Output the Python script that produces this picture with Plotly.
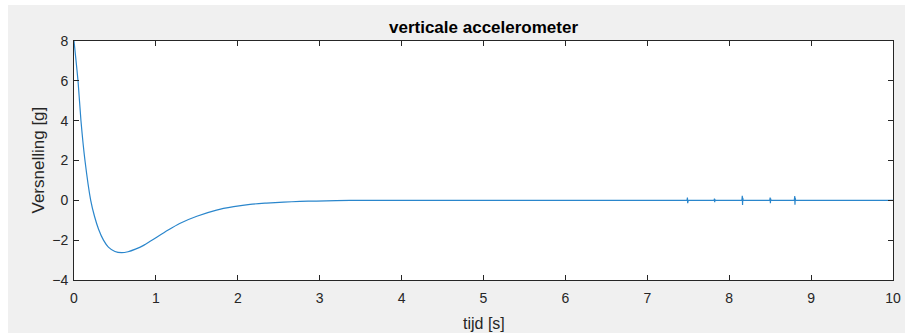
import plotly.graph_objects as go

# transient part of the signal (s, g)
curve_t = [0.0, 0.02, 0.049, 0.085, 0.134, 0.204, 0.25, 0.30, 0.36, 0.42, 0.50, 0.58,
           0.66, 0.75, 0.85, 0.93, 1.01, 1.15, 1.29, 1.5, 1.74, 1.95, 2.15, 2.35,
           2.56, 2.76, 2.96, 3.2, 3.37]
curve_y = [8.0, 7.2, 6.0, 4.0, 2.0, 0.0, -0.8, -1.45, -2.0, -2.35, -2.57, -2.63,
           -2.58, -2.45, -2.26, -2.06, -1.85, -1.49, -1.16, -0.8, -0.49, -0.32, -0.2, -0.14,
           -0.09, -0.055, -0.035, -0.015, 0.0]

# steady part with the small spikes
flat_t = [3.37, 4.0, 5.0, 6.0, 7.0, 7.485, 7.49, 7.493, 7.496, 7.5,
          7.815, 7.82, 7.823, 7.826, 7.83,
          8.155, 8.16, 8.163, 8.166, 8.17,
          8.495, 8.5, 8.503, 8.506, 8.51,
          8.795, 8.8, 8.803, 8.806, 8.81, 9.5, 10.0]
flat_y = [0.0, 0.0, 0.0, 0.0, 0.0, 0.0, 0.14, -0.14, 0.08, 0.0,
          0.0, 0.09, -0.09, 0.05, 0.0,
          0.0, 0.23, -0.23, 0.12, 0.0,
          0.0, 0.14, -0.14, 0.08, 0.0,
          0.0, 0.22, -0.22, 0.12, 0.0, 0.0, 0.0]

x_ticks = [0, 1, 2, 3, 4, 5, 6, 7, 8, 9, 10]
y_ticks = [-4, -2, 0, 2, 4, 6, 8]

line_color = "#2a86cc"
font_fam = "Liberation Sans, Arial, sans-serif"
txt = "#262626"

fig = go.Figure()
fig.add_trace(go.Scatter(x=curve_t, y=curve_y, mode="lines",
                         line=dict(color=line_color, width=1.2, shape="spline", smoothing=0.6),
                         hoverinfo="skip", showlegend=False))
fig.add_trace(go.Scatter(x=flat_t, y=flat_y, mode="lines",
                         line=dict(color=line_color, width=1.2),
                         hoverinfo="skip", showlegend=False))

axis_common = dict(showline=True, mirror="ticks", linecolor=txt, linewidth=1,
                   ticks="inside", ticklen=5, tickcolor=txt, tickwidth=1,
                   showgrid=False, zeroline=False,
                   tickfont=dict(family=font_fam, size=14, color=txt))

fig.update_xaxes(range=[0, 10], tickvals=x_ticks, ticklabelstandoff=5, **axis_common)
fig.update_yaxes(range=[-4, 8], tickvals=y_ticks, ticklabelstandoff=2, **axis_common)

W, H = 915, 333
ml, mr, mt, mb = 74, 22, 41, 53
fig.update_layout(
    width=W, height=H,
    margin=dict(l=ml, r=mr, t=mt, b=mb),
    paper_bgcolor="#f0f0f0", plot_bgcolor="white",
    font=dict(family=font_fam, color=txt),
    annotations=[
        dict(text="<b>verticale accelerometer</b>", xref="paper", yref="paper",
             x=0.5, y=1, yshift=14, xanchor="center", yanchor="middle",
             showarrow=False, font=dict(size=17, color="#000000")),
        dict(text="Versnelling [g]", xref="paper", yref="paper", x=0, y=0.5,
             xshift=-36, textangle=-90, xanchor="center", yanchor="middle",
             showarrow=False, font=dict(size=17, color=txt)),
        dict(text="tijd [s]", xref="paper", yref="paper", x=0.5, y=0,
             yshift=-43, xanchor="center", yanchor="middle",
             showarrow=False, font=dict(size=16, color=txt)),
    ],
)

# white page strips around the gray figure window
pw = W - ml - mr
ph = H - mt - mb
def px_x(p):
    return (p - ml) / pw
def px_y(p):
    return (H - mb - p) / ph
shapes = [
    dict(type="rect", xref="paper", yref="paper", x0=px_x(0), x1=px_x(8), y0=px_y(H), y1=px_y(0),
         fillcolor="white", line=dict(width=0), layer="above"),
    dict(type="rect", xref="paper", yref="paper", x0=px_x(0), x1=px_x(W), y0=px_y(5), y1=px_y(0),
         fillcolor="white", line=dict(width=0), layer="above"),
    dict(type="rect", xref="paper", yref="paper", x0=px_x(905), x1=px_x(W), y0=px_y(H), y1=px_y(0),
         fillcolor="white", line=dict(width=0), layer="above"),
]
fig.update_layout(shapes=shapes)

fig.write_html("out.html")
